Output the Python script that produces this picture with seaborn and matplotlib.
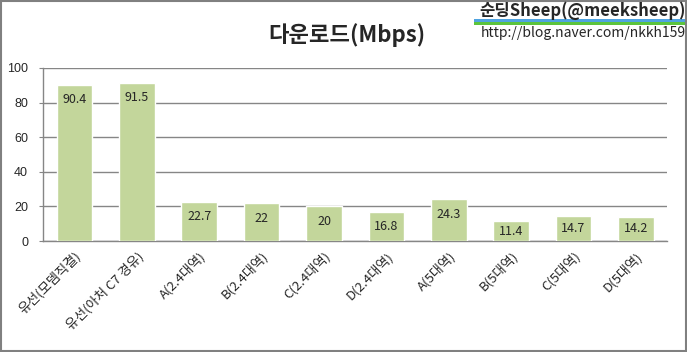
import numpy as np
import pandas as pd
import matplotlib
matplotlib.use("Agg")
import matplotlib.pyplot as plt
import seaborn as sns
from matplotlib.patches import Rectangle

# chart data
categories = ["유선(모뎀직결)", "유선(아처 C7 경유)", "A(2.4대역)", "B(2.4대역)", "C(2.4대역)",
              "D(2.4대역)", "A(5대역)", "B(5대역)", "C(5대역)", "D(5대역)"]
speeds = [90.4, 91.5, 22.7, 22, 20, 16.8, 24.3, 11.4, 14.7, 14.2]
value_labels = ["90.4", "91.5", "22.7", "22", "20", "16.8", "24.3", "11.4", "14.7", "14.2"]
y_ticks = [0, 20, 40, 60, 80, 100]

sns.set_style("white")
plt.rcParams['font.family'] = ['Noto Sans CJK KR', 'DejaVu Sans']

df = pd.DataFrame({"cat": categories, "speed": speeds})

fig = plt.figure(figsize=(6.87, 3.52), dpi=100)
ax = fig.add_axes([0.063, 0.315, 0.908, 0.492])

sns.barplot(data=df, x="cat", y="speed", color="#C3D69B", width=0.57,
            saturation=1, ax=ax, zorder=3)

ax.set_ylim(0, 100)
ax.set_yticks(y_ticks)
ax.set_yticklabels([str(t) for t in y_ticks], fontsize=9, family=['Liberation Sans', 'DejaVu Sans'])
ax.yaxis.grid(True, color="#868686", linewidth=1, zorder=0)
ax.set_axisbelow(True)
ax.set_xlabel("")
ax.set_ylabel("")
ax.set_xticks(range(len(categories)))
ax.set_xticklabels(categories, rotation=45, ha="right", rotation_mode="anchor", fontsize=9.5)
ax.tick_params(axis="x", length=0, pad=6)
ax.tick_params(axis="y", length=3, color="#868686", pad=8, left=True)
for s in ["top", "right"]:
    ax.spines[s].set_visible(False)
for s in ["left", "bottom"]:
    ax.spines[s].set_color("#868686")
    ax.spines[s].set_linewidth(1)

# labels sit just inside the bar top, centred for short bars
for i, (v, lab) in enumerate(zip(speeds, value_labels)):
    ax.text(i, max(v - 8.7, v / 2), lab, ha="center", va="center", fontsize=9, zorder=4)

fig.text(0.505, 0.9, "다운로드(Mbps)", ha="center", va="center", fontsize=16, fontweight="bold")

# blog watermark in the corner
fig.text(0.998, 0.97, "순딩Sheep(@meeksheep)", ha="right", va="center", fontsize=12, fontweight="bold")
fig.text(0.998, 0.905, "http://blog.naver.com/nkkh159", ha="right", va="center", fontsize=10)
fig.add_artist(Rectangle((0.69, 0.9375), 0.31, 0.0085, transform=fig.transFigure, color="#4FA3E0", lw=0))
fig.add_artist(Rectangle((0.69, 0.929), 0.31, 0.0085, transform=fig.transFigure, color="#5CC43C", lw=0))

# outer border
fig.add_artist(Rectangle((0.001, 0.002), 0.997, 0.996, transform=fig.transFigure,
                         fill=False, edgecolor="#808080", linewidth=1.5))

fig.savefig("out.png", dpi=100)
